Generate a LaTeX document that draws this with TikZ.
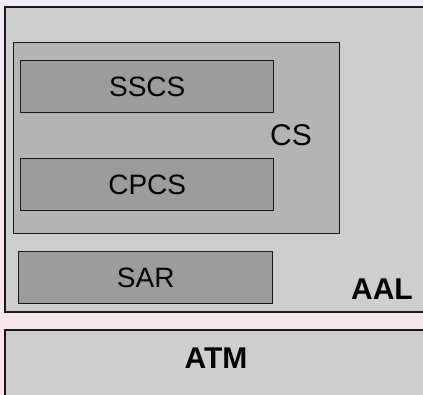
\documentclass[tikz,border=0pt]{standalone}
\usepackage{fontspec}
\setmainfont{Liberation Sans}
\usetikzlibrary{positioning}
\definecolor{aalgray}{RGB}{206,206,206}
\definecolor{csgray}{RGB}{180,180,180}
\definecolor{subgray}{RGB}{156,156,156}
\definecolor{bgtop}{RGB}{242,234,246}
\definecolor{bgbottom}{RGB}{251,229,234}
\definecolor{edge}{RGB}{25,25,25}

\begin{document}
\begin{tikzpicture}[x=1pt,y=-1pt,
    layer/.style={draw=edge,line width=1.6pt,anchor=north west,inner sep=0pt},
    sublayer/.style={layer,fill=subgray,line width=1.4pt,
      minimum width=253pt,minimum height=52pt,font=\fontsize{28}{30}\selectfont},
    tag/.style={font=\fontsize{30}{32}\selectfont\bfseries}]
  \useasboundingbox (0,0) rectangle (423,394);
  \clip (0,0) rectangle (423,394);
  \shade[top color=bgtop,bottom color=bgbottom] (0,0) rectangle (423,394);
  % AAL with its sublayers
  \node[layer,fill=aalgray,minimum width=424pt,minimum height=305pt] (aal) at (4,6) {};
  \node[layer,fill=csgray,line width=1.4pt,minimum width=326pt,minimum height=191pt] (cs) at (13,42) {};
  \node[sublayer] (sscs) at (20,60) {SSCS};
  \node[sublayer] (cpcs) at (20,158) {CPCS};
  \node[font=\fontsize{30}{32}\selectfont] (cslabel) at (291,135) {CS};
  \node[sublayer,minimum width=254pt] (sar) at (18,251) {SAR};
  \node[tag] (aallabel) at (382,289) {AAL};
  % ATM below
  \node[layer,fill=aalgray,minimum width=424pt,minimum height=70pt] (atm) at (4,329) {};
  \node[tag] (atmlabel) at (216,358) {ATM};
\end{tikzpicture}
\end{document}
